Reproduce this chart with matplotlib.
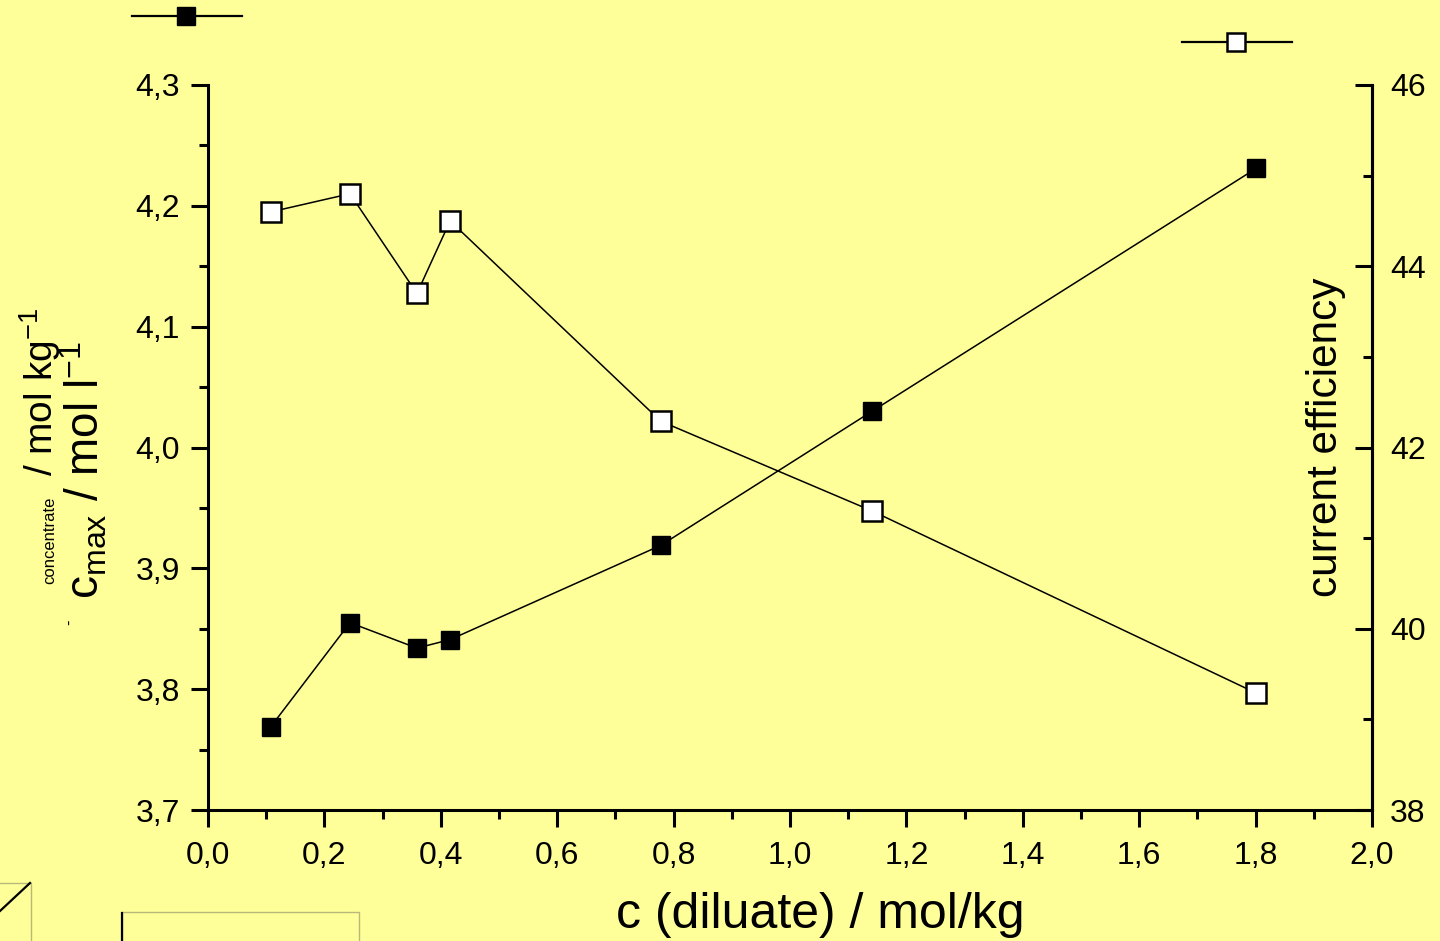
import matplotlib
matplotlib.use("Agg")
import matplotlib.pyplot as plt
from matplotlib.ticker import MultipleLocator, FuncFormatter
from matplotlib.lines import Line2D
from matplotlib.patches import Rectangle

plt.rcParams['font.family'] = ['Liberation Sans', 'DejaVu Sans']
plt.rcParams['mathtext.default'] = 'regular'

# data
c_diluate = [0.108, 0.244, 0.359, 0.416, 0.778, 1.141, 1.801]
c_max = [3.769, 3.855, 3.834, 3.841, 3.919, 4.030, 4.231]
efficiency = [44.60, 44.80, 43.70, 44.50, 42.29, 41.30, 39.29]

BG = '#FFFF99'
W, H = 1440, 941


def fx(px):
    return px / W


def fy(py):
    return 1 - py / H


def comma(v, pos):
    return f"{v:.1f}".replace('.', ',')


fig = plt.figure(figsize=(14.4, 9.41), dpi=100, facecolor=BG)
ax = fig.add_axes([fx(208), fy(810), (1372 - 208) / W, (810 - 85) / H])
ax.set_facecolor(BG)
ax2 = ax.twinx()

# left axis: c max
ax.plot(c_diluate, c_max, '-', color='black', lw=1.1, zorder=3)
ax.plot(c_diluate, c_max, 's', color='black', ms=13, zorder=4, clip_on=False)

# right axis: current efficiency
ax2.plot(c_diluate, efficiency, '-', color='black', lw=1.1, zorder=3)
ax2.plot(c_diluate, efficiency, 's', mfc='white', mec='black', mew=1.8,
         ms=14, zorder=4, clip_on=False)

ax.set_xlim(0, 2.0)
ax.set_ylim(3.7, 4.3)
ax2.set_ylim(38, 46)

ax.xaxis.set_major_locator(MultipleLocator(0.2))
ax.xaxis.set_minor_locator(MultipleLocator(0.1))
ax.yaxis.set_major_locator(MultipleLocator(0.1))
ax.yaxis.set_minor_locator(MultipleLocator(0.05))
ax2.yaxis.set_major_locator(MultipleLocator(2))
ax2.yaxis.set_minor_locator(MultipleLocator(1))
ax.xaxis.set_major_formatter(FuncFormatter(comma))
ax.yaxis.set_major_formatter(FuncFormatter(comma))

for a in (ax, ax2):
    a.spines['top'].set_visible(False)
    for s in ('left', 'right', 'bottom'):
        a.spines[s].set_linewidth(2.2)
    a.tick_params(which='major', length=12, width=2.2, labelsize=23, pad=8)
    a.tick_params(which='minor', length=6.5, width=2.2)
ax.tick_params(axis='x', which='major', pad=10)
# right axis ticks point into the plot
ax2.tick_params(axis='y', which='both', direction='in')
ax2.tick_params(axis='y', which='major', pad=13)
ax2.spines['left'].set_visible(False)
ax2.spines['bottom'].set_visible(False)

# axis titles
fig.text(fx(820), fy(915), 'c (diluate) / mol/kg', fontsize=36,
         ha='center', va='center')
fig.text(fx(1326), fy(437), 'current efficiency', fontsize=30.5,
         rotation=90, ha='center', va='center')
fig.text(fx(40), fy(392), r'/ mol kg$^{-1}$', fontsize=28,
         rotation=90, ha='center', va='center')
fig.text(fx(84), fy(470), r'c$_{max}$ / mol l$^{-1}$', fontsize=33,
         rotation=90, ha='center', va='center')
fig.text(fx(50), fy(540), 'concentrate', fontsize=12,
         rotation=90, ha='center', va='center')
fig.text(fx(70), fy(622), '-', fontsize=12, rotation=90,
         ha='center', va='center')

# legend samples at the top
fig.add_artist(Line2D([fx(132), fx(186), fx(242)], [fy(16)] * 3,
                      color='black', lw=1.6, marker='s', ms=13,
                      markevery=[1], mfc='black', mec='black'))
fig.add_artist(Line2D([fx(1182), fx(1236), fx(1292)], [fy(42)] * 3,
                      color='black', lw=1.6, marker='s', ms=13,
                      markevery=[1], mfc='white', mec='black', mew=1.8))

# leftover boxes in the lower left corner
fig.add_artist(Rectangle((fx(-2), fy(945)), fx(33), fy(883) - fy(945),
                         fill=False, ec='#b8b87a', lw=1))
fig.add_artist(Line2D([fx(0), fx(30)], [fy(911), fy(883)], color='black', lw=1.6))
fig.add_artist(Rectangle((fx(122), fy(945)), fx(237), fy(912) - fy(945),
                         fill=False, ec='#b8b87a', lw=1))
fig.add_artist(Line2D([fx(122), fx(122)], [fy(913), fy(941)], color='black', lw=1.6))

fig.savefig('out.png', dpi=100, facecolor=BG)
